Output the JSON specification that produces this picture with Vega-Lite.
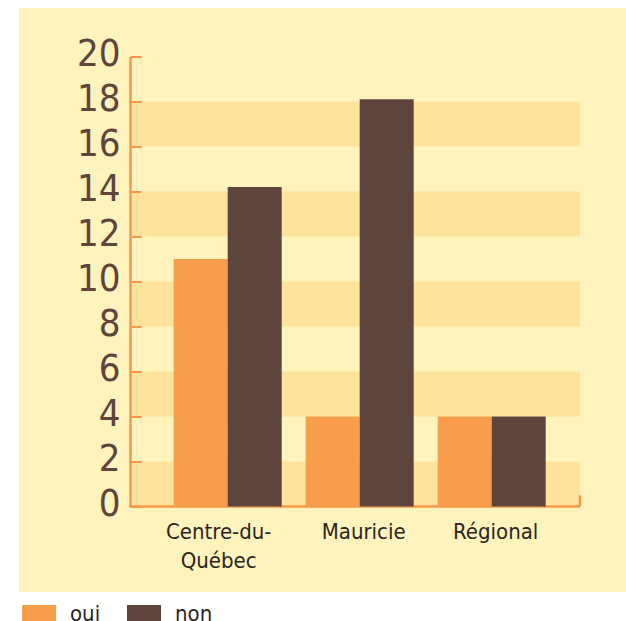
{
  "$schema": "https://vega.github.io/schema/vega-lite/v6.json",
  "width": 450,
  "height": 450,
  "autosize": {"type": "none"},
  "padding": {"left": 130, "top": 56.5, "right": 46, "bottom": 114.5},
  "background": "#FFFFFF",
  "config": {
    "view": {"stroke": null},
    "font": "Liberation Sans Narrow, DejaVu Sans Condensed, sans-serif"
  },
  "layer": [
    {
      "data": {"values": [{"panel": "fond"}]},
      "mark": {"type": "rect", "color": "#FFF3BD"},
      "encoding": {
        "x": {"datum": -0.2467, "type": "quantitative", "scale": {"domain": [0, 1], "nice": false, "zero": false}, "axis": null},
        "x2": {"datum": 1.1022},
        "y": {"datum": 22.16, "type": "quantitative", "scale": {"domain": [0, 20], "nice": false}, "title": null},
        "y2": {"datum": -3.8}
      }
    },
    {
      "data": {"values": [
        {"lo": 0, "hi": 2},
        {"lo": 4, "hi": 6},
        {"lo": 8, "hi": 10},
        {"lo": 12, "hi": 14},
        {"lo": 16, "hi": 18}
      ]},
      "mark": {"type": "rect", "color": "#FFE29B"},
      "encoding": {
        "y": {"field": "lo", "type": "quantitative", "scale": {"domain": [0, 20], "nice": false}, "title": null},
        "y2": {"field": "hi"}
      }
    },
    {
      "data": {"values": [{"base": 0}]},
      "mark": {"type": "rule", "color": "#F7994A", "strokeWidth": 2.5},
      "encoding": {
        "y": {"field": "base", "type": "quantitative", "scale": {"domain": [0, 20], "nice": false}, "title": null}
      }
    },
    {
      "data": {"values": [{"base": 0}]},
      "mark": {"type": "rule", "color": "#F7994A", "strokeWidth": 2.5},
      "encoding": {
        "x": {"datum": 1, "type": "quantitative", "scale": {"domain": [0, 1], "nice": false, "zero": false}, "axis": null},
        "y": {"datum": 0, "type": "quantitative", "scale": {"domain": [0, 20], "nice": false}, "title": null},
        "y2": {"datum": 0.5}
      }
    },
    {
      "data": {"values": [
        {"region": "Centre-du-Québec", "answer": "oui", "value": 11},
        {"region": "Centre-du-Québec", "answer": "non", "value": 14.2},
        {"region": "Mauricie", "answer": "oui", "value": 4},
        {"region": "Mauricie", "answer": "non", "value": 18.1},
        {"region": "Régional", "answer": "oui", "value": 4},
        {"region": "Régional", "answer": "non", "value": 4}
      ]},
      "mark": {"type": "bar"},
      "encoding": {
        "x": {
          "field": "region", "type": "nominal", "sort": null, "title": null,
          "scale": {"paddingInner": 0.1818, "paddingOuter": 0.2955, "align": 0.56},
          "axis": {
            "zindex": 2,
            "domain": false,
            "ticks": false,
            "grid": false,
            "labelPadding": 15,
            "labelFontSize": 22,
            "labelLineHeight": 29,
            "labelAngle": 0,
            "labelColor": "#2A2522",
            "labelFont": "Liberation Sans Narrow, DejaVu Sans Condensed, sans-serif",
            "labelExpr": "datum.value === 'Centre-du-Québec' ? ['Centre-du-', 'Québec'] : datum.label",
            "labelOffset": {"condition": {"test": "datum.value === 'Centre-du-Québec'", "value": -9}, "value": 4}
          }
        },
        "xOffset": {"field": "answer", "type": "nominal", "sort": ["oui", "non"], "scale": {"domain": ["oui", "non"], "paddingInner": 0, "paddingOuter": 0}},
        "y": {
          "field": "value", "type": "quantitative", "scale": {"domain": [0, 20], "nice": false}, "title": null,
          "axis": {
            "zindex": 2,
            "domainColor": "#F7994A",
            "domainWidth": 2.5,
            "tickColor": "#F7994A",
            "tickWidth": 2,
            "tickSize": -11,
            "tickCount": 10,
            "labelPadding": 21,
            "labelFontSize": 38,
            "labelColor": "#5D443D",
            "labelFont": "Liberation Sans Narrow, DejaVu Sans Condensed, sans-serif",
            "labelOffset": -2,
            "grid": false
          }
        },
        "color": {
          "field": "answer", "type": "nominal",
          "scale": {"domain": ["oui", "non"], "range": ["#F89D4B", "#5D443D"]},
          "legend": {
            "orient": "none",
            "legendX": -108,
            "legendY": 540,
            "direction": "horizontal",
            "title": null,
            "padding": 0,
            "symbolType": "M-1,-0.5H1V0.5H-1Z",
            "symbolSize": 1156,
            "symbolStrokeWidth": 0,
            "symbolOpacity": 1,
            "labelFontSize": 22,
            "labelColor": "#2A2522",
            "labelFont": "Liberation Sans Narrow, DejaVu Sans Condensed, sans-serif",
            "labelOffset": 14,
            "labelBaseline": "middle",
            "columnPadding": 26
          }
        }
      }
    }
  ],
  "resolve": {"scale": {"x": "independent"}}
}
